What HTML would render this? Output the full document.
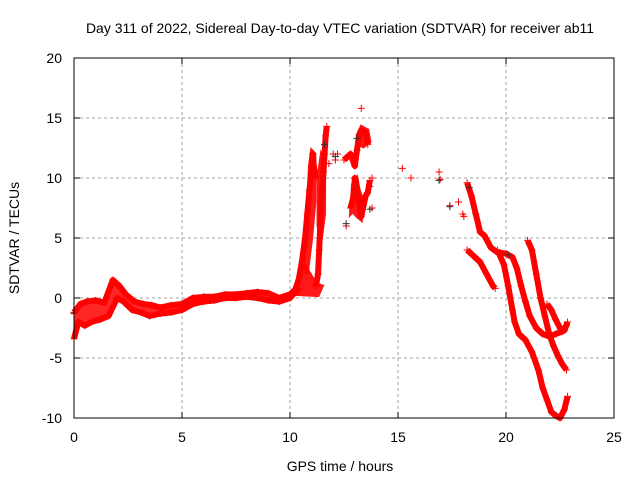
<!DOCTYPE html>
<html><head><meta charset="utf-8"><style>
body{margin:0;background:#fff}
svg text{font-family:"Liberation Sans",sans-serif;font-size:14px;fill:#000}
</style></head><body>
<svg id="c" width="640" height="480" xmlns="http://www.w3.org/2000/svg">
<rect width="640" height="480" fill="#fff"/>
<text x="340" y="33" text-anchor="middle">Day 311 of 2022, Sidereal Day-to-day VTEC variation (SDTVAR) for receiver ab11</text>
<text x="340" y="471" text-anchor="middle">GPS time / hours</text>
<text transform="translate(19,238) rotate(-90)" text-anchor="middle">SDTVAR / TECUs</text>
<g id="grid"></g><g id="marks"></g>
<rect x="74" y="58" width="540" height="360" fill="none" stroke="#000"/>
</svg>
<script>
const xTicks=[0,5,10,15,20,25];
const yTicks=[-10,-5,0,5,10,15,20];
const trackBaseUpper=[[0,-1.2],[0.3,-0.5],[0.6,-0.3],[1,-0.2],[1.4,-0.4],[1.8,1.5],[2.1,1],[2.4,0.3],[2.8,-0.3],[3.2,-0.5],[3.6,-0.6],[4,-0.8],[4.5,-0.6],[5,-0.5],[5.5,0],[6,0.1],[6.5,0.1],[7,0.3],[7.5,0.3],[8,0.4],[8.5,0.5],[9,0.4],[9.5,0],[10,0.3],[10.3,0.8]];
const trackBaseLower=[[0,-3.4],[0.2,-2],[0.5,-2.3],[0.8,-2],[1.2,-1.8],[1.6,-1.5],[2,0],[2.3,-0.3],[2.7,-1],[3.1,-1.2],[3.5,-1.5],[4,-1.3],[4.5,-1.2],[5,-1],[5.5,-0.5],[6,-0.3],[6.5,-0.2],[7,0],[7.5,0],[8,0.1],[8.5,0],[9,-0.2],[9.5,-0.3],[10,0],[10.4,0.8]];
const trackRise1=[[10.2,0.5],[10.4,1.5],[10.55,3],[10.7,5],[10.8,7],[10.9,9],[11,10.5],[11.05,12],[11.1,11],[11.2,10]];
const trackRise2=[[11.2,1],[11.3,2],[11.35,4],[11.4,6],[11.45,8],[11.5,9],[11.55,10.5],[11.6,12],[11.65,13.5],[11.7,14.3]];
const clusterRiseLeft=[[10.6,3],[10.8,7],[10.9,11],[11,12.3],[11.15,12],[11.15,8],[11,5],[10.8,2]];
const clusterRiseRight=[[11.3,6],[11.3,10],[11.45,12],[11.6,11.5],[11.6,7],[11.45,5]];
const clusterBase=[[10.2,0.3],[10.4,1.5],[10.6,3],[11.2,1.2],[11.5,1],[11.3,0.2]];
const clusterMidLow=[[12.8,7],[12.9,9.5],[13.1,10],[13.2,9],[13.3,8.5],[13.3,6.5],[13.1,6.8],[12.9,7.2]];
const clusterMidHigh=[[13.2,13.8],[13.3,14.3],[13.6,14],[13.7,13],[13.4,12.6],[13.2,12.8]];
const trackMidA=[[12.5,11.5],[12.8,12],[13,11],[13.1,12.3],[13.2,13.6],[13.3,14],[13.5,13.8],[13.6,12.8]];
const trackMidB=[[12.8,7.5],[12.95,8.5],[13,10],[13.1,9],[13.2,8],[13.3,6.8],[13.5,8.5],[13.6,8.8],[13.7,9.8]];
const trackScatter=[[12,12],[12.2,12],[12.6,6],[13.3,15.8],[13.8,7.5],[15.2,10.8],[15.6,10],[16.9,10.5],[16.95,9.9],[17.4,7.7],[17.8,8],[18,7],[18.05,6.8],[11.8,11.2],[12.1,11.5],[13.7,9.3],[13.8,10]];
const trackDeclA=[[18.2,9.6],[18.4,8.5],[18.6,7],[18.8,5.5],[19,5.2],[19.3,4.2],[19.6,3.8],[20,3.7],[20.3,3.4],[20.5,2.5],[20.7,1],[20.9,-0.3],[21.1,-1.5],[21.4,-2.5],[21.7,-3],[22,-3.2],[22.3,-3],[22.6,-2.8],[22.8,-2.3]];
const trackDeclB=[[18.2,4],[18.5,3.5],[18.8,3],[19.1,2],[19.4,1],[19.5,0.8]];
const trackDeclC=[[19.6,4],[19.9,2.8],[20.1,1],[20.3,-1],[20.4,-2],[20.6,-3],[20.9,-3.5],[21.2,-4.5],[21.5,-6],[21.7,-7.5],[21.9,-8.5],[22.1,-9.5],[22.3,-9.8],[22.5,-10],[22.7,-9.3],[22.85,-8.2]];
const trackDeclD=[[21,4.8],[21.2,4],[21.4,2],[21.6,0],[21.8,-1.5],[22,-3],[22.2,-4],[22.4,-4.8],[22.6,-5.5],[22.8,-6]];
const trackDeclE=[[21.9,-0.5],[22.1,-1],[22.3,-1.8],[22.5,-2.5],[22.7,-2.7],[22.85,-2]];
const blackPts=[[0,-1.3],[11.6,12.8],[12.1,11.8],[12.6,6.2],[13.1,13.3],[13.7,7.4],[16.9,9.8],[17.4,7.6],[18.3,9.2],[20.1,3.6]];
const X=h=>74+h*21.6, Y=v=>298-v*12;
const ns="http://www.w3.org/2000/svg";
const grid=document.getElementById('grid'), marks=document.getElementById('marks');
function mk(t,a,p){const e=document.createElementNS(ns,t);for(const k in a)e.setAttribute(k,a[k]);p.appendChild(e);return e;}
xTicks.forEach(t=>{
 if(t>0&&t<25){const l=mk('line',{x1:X(t),x2:X(t),y1:58,y2:418,stroke:'#a0a0a0','stroke-dasharray':'3,3'},grid);
 
 }
 mk('line',{x1:X(t),x2:X(t),y1:418,y2:412,stroke:'#000'},grid);mk('line',{x1:X(t),x2:X(t),y1:58,y2:64,stroke:'#000'},grid);
 const tx=mk('text',{x:X(t),y:442,'text-anchor':'middle'},grid);tx.textContent=t;
 
 
});
yTicks.forEach(t=>{
 if(t>-10&&t<20){const l=mk('line',{x1:74,x2:614,y1:Y(t),y2:Y(t),stroke:'#a0a0a0','stroke-dasharray':'3,3'},grid);
 
 }
 mk('line',{x1:74,x2:80,y1:Y(t),y2:Y(t),stroke:'#000'},grid);mk('line',{x1:614,x2:608,y1:Y(t),y2:Y(t),stroke:'#000'},grid);
 const tx=mk('text',{x:62,y:Y(t)+5,'text-anchor':'end'},grid);tx.textContent=t;
 
 
});
function plus(h,v,col){const g=mk('path',{d:`M${X(h)-3.5},${Y(v)}h7M${X(h)},${Y(v)-3.5}v7`,stroke:col,'stroke-width':1},marks);
 
 }
[clusterRiseLeft,clusterRiseRight,clusterBase,clusterMidLow,clusterMidHigh].forEach(c=>{
 const pg=mk('polygon',{points:c.map(p=>X(p[0])+','+Y(p[1])).join(' '),fill:'#f00',stroke:'#f00','stroke-width':3,opacity:0.9},marks);
 
 
});
const lines=[trackBaseUpper,trackBaseLower,trackRise1,trackRise2,trackMidA,trackMidB,trackDeclA,trackDeclB,trackDeclC,trackDeclD,trackDeclE];
lines.forEach(tr=>{
 const pl=mk('polyline',{points:tr.map(p=>X(p[0])+','+Y(p[1])).join(' '),fill:'none',stroke:'#f00','stroke-width':6,'stroke-linejoin':'round'},marks);
 
 
 tr.forEach(p=>plus(p[0],p[1],'#f00'));
});
trackScatter.forEach(p=>plus(p[0],p[1],'#f00'));
blackPts.forEach(p=>plus(p[0],p[1],'#333'));
const band=mk('polygon',{points:trackBaseUpper.map(p=>X(p[0])+','+Y(p[1])).concat(trackBaseLower.slice().reverse().map(p=>X(p[0])+','+Y(p[1]))).join(' '),fill:'#f00',opacity:0.85},marks);


</script>
</body></html>
